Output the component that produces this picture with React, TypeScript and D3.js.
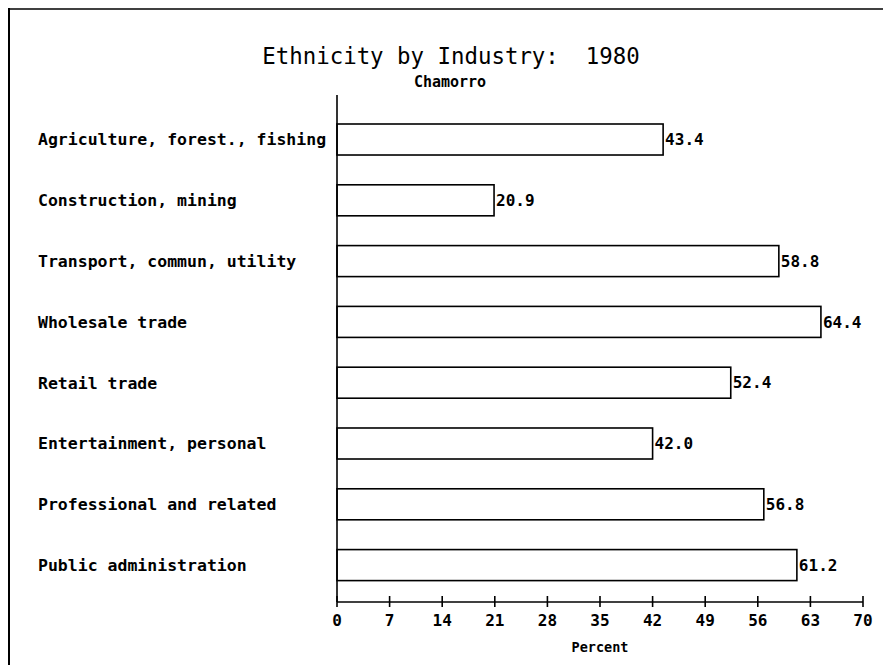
import { scaleBand, scaleLinear, range } from "d3";

const categories = [
  "Agriculture, forest., fishing",
  "Construction, mining",
  "Transport, commun, utility",
  "Wholesale trade",
  "Retail trade",
  "Entertainment, personal",
  "Professional and related",
  "Public administration",
];

const values = [43.4, 20.9, 58.8, 64.4, 52.4, 42.0, 56.8, 61.2];

const xTicks = range(0, 71, 7);

const W = 883;
const H = 665;
const mono = "'DejaVu Sans Mono', 'Liberation Mono', monospace";

export default function App() {
  const x = scaleLinear().domain([0, 70]).range([337, 863]);
  const y = scaleBand()
    .domain(categories)
    .range([108.8, 595.8])
    .paddingInner(0.49)
    .paddingOuter(0.25);

  const axisY = 602;

  return (
    <svg
      width={W}
      height={H}
      style={{ position: "absolute", left: 0, top: 0, background: "#fff" }}
    >
      {/* frame */}
      <line x1={9} y1={8} x2={9} y2={H} stroke="#000" strokeWidth={2} />
      <line x1={8} y1={9} x2={W} y2={9} stroke="#000" strokeWidth={1.5} />

      <text
        x={451}
        y={64}
        textAnchor="middle"
        fontFamily={mono}
        fontSize={22.4}
        xmlSpace="preserve"
        style={{ whiteSpace: "pre" }}
      >
        {"Ethnicity by Industry:  1980"}
      </text>
      <text
        x={450}
        y={87}
        textAnchor="middle"
        fontFamily={mono}
        fontSize={15}
        fontWeight="bold"
      >
        Chamorro
      </text>

      {/* bars */}
      {categories.map((c, i) => {
        const top = y(c)!;
        const mid = top + y.bandwidth() / 2;
        return (
          <g key={c}>
            <rect
              x={x(0)}
              y={top}
              width={x(values[i]) - x(0)}
              height={y.bandwidth()}
              fill="none"
              stroke="#000"
              strokeWidth={1.6}
            />
            <text
              x={x(values[i]) + 2}
              y={mid}
              dy="0.36em"
              fontFamily={mono}
              fontSize={16}
              fontWeight="bold"
            >
              {values[i].toFixed(1)}
            </text>
            <text
              x={38}
              y={mid}
              dy="0.36em"
              fontFamily={mono}
              fontSize={16.5}
              fontWeight="bold"
            >
              {c}
            </text>
          </g>
        );
      })}

      {/* axes */}
      <line x1={x(0)} y1={95} x2={x(0)} y2={axisY} stroke="#000" strokeWidth={1.6} />
      <line x1={x(0)} y1={axisY} x2={x(70)} y2={axisY} stroke="#000" strokeWidth={1.6} />
      {xTicks.map((t) => (
        <g key={t}>
          <line
            x1={x(t)}
            x2={x(t)}
            y1={axisY - 6}
            y2={axisY + 5}
            stroke="#000"
            strokeWidth={1.6}
          />
          <text
            x={x(t)}
            y={626}
            textAnchor="middle"
            fontFamily={mono}
            fontSize={16}
            fontWeight="bold"
          >
            {t}
          </text>
        </g>
      ))}
      <text
        x={600}
        y={652}
        textAnchor="middle"
        fontFamily={mono}
        fontSize={13.5}
        fontWeight="bold"
      >
        Percent
      </text>
    </svg>
  );
}
